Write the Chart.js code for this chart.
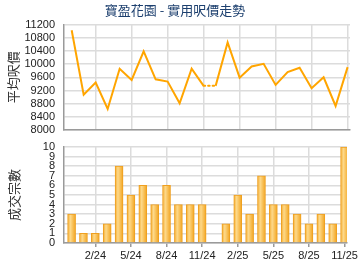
<!DOCTYPE html>
<html>
<head>
<meta charset="utf-8">
<script src="https://cdn.jsdelivr.net/npm/chart.js@4/dist/chart.umd.min.js"></script>
<style>
  html, body { margin: 0; padding: 0; background: #fff; }
  #wrap { position: relative; width: 360px; height: 270px; }
  canvas { position: absolute; left: 0; }
</style>
</head>
<body>
<div id="wrap">
  <canvas id="volume-chart" width="360" height="135" style="top:135px"></canvas>
  <canvas id="price-chart" width="360" height="140" style="top:0"></canvas>
</div>
<script>
// 月份 12/23 - 11/25
const months = ['12/23','1/24','2/24','3/24','4/24','5/24','6/24','7/24','8/24','9/24','10/24','11/24',
                '12/24','1/25','2/25','3/25','4/25','5/25','6/25','7/25','8/25','9/25','10/25','11/25'];
const prices = [11030, 9070, 9440, 8640, 9860, 9520, 10390, 9540, 9470, 8810, 9860, 9340,
                9340, 10660, 9590, 9930, 10010, 9370, 9760, 9890, 9270, 9600, 8730, 9910];
const volumes = [3, 1, 1, 2, 8, 5, 6, 4, 6, 4, 4, 4,
                 0, 2, 5, 3, 7, 4, 4, 3, 2, 3, 2, 10];
const tickMonths = ['2/24','5/24','8/24','11/24','2/25','5/25','8/25','11/25'];
const priceTicks = [8000, 11200, 400];
const volumeTicks = [0, 10, 1];

const tickIdx = tickMonths.map(m => months.indexOf(m));
const gridColor = '#dcdcdc';
const axisColor = '#9a9a9a';
const tickFont = { family: 'Liberation Sans, Arial, sans-serif', size: 11 };
const cjkFont = { family: 'Noto Sans CJK TC, sans-serif', size: 13 };

function xScale(showLabels) {
    return {
        type: 'linear',
        min: -0.64,
        max: 23.2,
        offset: false,
        afterBuildTicks: s => { s.ticks = tickIdx.map(v => ({ value: v })); },
        afterFit: s => { s.height = showLabels ? 27 : 0; },
        grid: { offset: false, color: gridColor, lineWidth: 1.5, drawTicks: showLabels, tickLength: 4, tickColor: axisColor },
        border: { color: axisColor, width: 1.5 },
        ticks: {
            display: showLabels,
            autoSkip: false,
            maxRotation: 0,
            padding: 2,
            color: '#222',
            font: tickFont,
            callback: v => months[v]
        }
    };
}

function yScale(t, title, titlePad) {
    return {
        min: t[0],
        max: t[1],
        afterFit: s => { s.width = 64; },
        grid: { color: gridColor, lineWidth: 1.5, drawTicks: true, tickLength: 7, tickColor: 'rgba(0,0,0,0)' },
        border: { color: axisColor, width: 1.5 },
        ticks: { stepSize: t[2], autoSkip: false, padding: 2, color: '#222', font: tickFont, callback: v => String(v) },
        title: { display: true, text: title, color: '#333', font: cjkFont, padding: { top: titlePad, bottom: 0 } }
    };
}

// 平均呎價
new Chart(document.getElementById('price-chart'), {
    type: 'line',
    data: {
        datasets: [{
            data: prices.map((p, i) => ({ x: i, y: p })),
            borderColor: '#ffa500',
            borderWidth: 2,
            pointRadius: 0,
            tension: 0,
            segment: {
                borderDash: c => volumes[c.p1DataIndex] === 0 ? [1.5, 3] : undefined,
                borderCapStyle: c => volumes[c.p1DataIndex] === 0 ? 'round' : 'butt'
            }
        }]
    },
    options: {
        responsive: false,
        animation: false,
        layout: { padding: { left: 0, right: 10, top: 0, bottom: 10 } },
        plugins: {
            legend: { display: false },
            tooltip: { enabled: false },
            title: {
                display: true,
                text: '寶盈花園 - 實用呎價走勢',
                color: '#1c3f6e',
                font: { family: 'Noto Sans CJK TC, sans-serif', size: 13, weight: 'normal' },
                padding: { top: 2, bottom: 7 }
            }
        },
        scales: { x: xScale(false), y: yScale(priceTicks, '平均呎價', 5) }
    }
});

// 成交宗數
new Chart(document.getElementById('volume-chart'), {
    type: 'bar',
    data: {
        datasets: [{
            data: volumes.map((v, i) => ({ x: i, y: v })),
            barThickness: 8,
            borderColor: '#efa020',
            borderWidth: 1,
            backgroundColor: c => {
                const sx = c.chart.scales.x;
                if (!sx || c.type !== 'data') return '#f8c04a';
                const px = sx.getPixelForValue(c.dataIndex);
                if (!isFinite(px)) return '#f8c04a';
                const g = c.chart.ctx.createLinearGradient(px - 4, 0, px + 4, 0);
                g.addColorStop(0, '#f4ab2e');
                g.addColorStop(0.35, '#fdd98a');
                g.addColorStop(1, '#f2a41f');
                return g;
            }
        }]
    },
    options: {
        responsive: false,
        animation: false,
        layout: { padding: { left: 0, right: 10, top: 12, bottom: 0 } },
        plugins: { legend: { display: false }, tooltip: { enabled: false } },
        scales: { x: xScale(true), y: yScale(volumeTicks, '成交宗數', 6) }
    }
});
</script>
</body>
</html>
